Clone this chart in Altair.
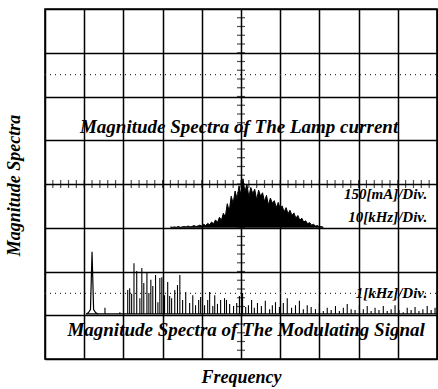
import altair as alt
import pandas as pd

# ---------------- data (screen units: 1 = one graticule division) -------------
# Lamp-current spectrum (upper trace), sits on the division line y = 3
lamp_pos = [3.20, 3.25, 3.30, 3.35, 3.40, 3.45, 3.50, 3.55, 3.60, 3.65,
            3.70, 3.75, 3.80, 3.85, 3.90, 3.95, 4.00, 4.05, 4.10, 4.15,
            4.20, 4.25, 4.30, 4.35, 4.40, 4.45, 4.50, 4.55, 4.60, 4.65,
            4.70, 4.75, 4.80, 4.85, 4.90, 4.95, 5.00, 5.05, 5.10, 5.15,
            5.20, 5.25, 5.30, 5.35, 5.40, 5.45, 5.50, 5.55, 5.60, 5.65,
            5.70, 5.75, 5.80, 5.85, 5.90, 5.95, 6.00, 6.05, 6.10, 6.15,
            6.20, 6.25, 6.30, 6.35, 6.40, 6.45, 6.50, 6.55, 6.60, 6.65,
            6.70, 6.75, 6.80, 6.85, 6.90, 6.95, 7.00, 7.05, 7.10]
lamp_mag = [0.02, 0.01, 0.02, 0.01, 0.03, 0.01, 0.02, 0.03, 0.02, 0.04,
            0.02, 0.03, 0.05, 0.03, 0.04, 0.06, 0.04, 0.08, 0.05, 0.10,
            0.07, 0.13, 0.09, 0.18, 0.12, 0.24, 0.17, 0.33, 0.25, 0.55,
            0.38, 0.72, 0.56, 0.84, 0.66, 0.96, 0.74, 1.12, 0.82, 1.00,
            0.70, 0.92, 0.78, 0.88, 0.64, 0.86, 0.72, 0.80, 0.60, 0.74,
            0.52, 0.68, 0.56, 0.62, 0.46, 0.58, 0.44, 0.50, 0.36, 0.46,
            0.32, 0.40, 0.28, 0.34, 0.22, 0.28, 0.17, 0.22, 0.13, 0.16,
            0.09, 0.12, 0.06, 0.08, 0.04, 0.05, 0.02, 0.03, 0.01]

# Modulating-signal spectrum (lower trace): spike positions and tops
mod_pos = [1.53, 1.91, 2.11, 2.16, 2.21, 2.27, 2.34, 2.42, 2.47, 2.52,
           2.60, 2.65, 2.70, 2.75, 2.82, 2.88, 2.93, 2.98, 3.05, 3.13,
           3.18, 3.23, 3.31, 3.38, 3.44, 3.51, 3.59, 3.69, 3.77, 3.84,
           3.92, 3.97, 4.07, 4.15, 4.20, 4.28, 4.33, 4.40, 4.48, 4.58,
           4.63, 4.71, 4.81, 4.89, 4.96, 5.04, 5.12, 5.19, 5.27, 5.34,
           5.42, 5.52, 5.62, 5.73, 5.80, 5.88, 5.98, 6.08, 6.18, 6.29,
           6.39, 6.49, 6.59, 6.69, 6.79, 6.90, 7.00, 7.10, 7.20, 7.30,
           7.41, 7.51, 7.61, 7.71, 7.81, 7.91, 8.02, 8.12, 8.22, 8.32,
           8.42, 8.52, 8.63, 8.73, 8.83, 8.93, 9.03, 9.14, 9.24, 9.34,
           9.44, 9.54, 9.64, 9.75, 9.85, 9.95]
mod_mag = [1.17, 1.07, 1.58, 1.62, 1.49, 2.19, 2.01, 1.39, 2.08, 1.74,
           1.99, 1.51, 1.81, 1.67, 1.92, 1.30, 1.85, 1.87, 1.46, 1.76,
           1.44, 1.39, 1.58, 1.69, 1.92, 1.35, 1.53, 1.28, 1.46, 1.23,
           1.35, 1.42, 1.23, 1.35, 1.53, 1.21, 1.46, 1.26, 1.35, 1.39,
           1.35, 1.26, 1.21, 1.28, 1.44, 1.51, 1.19, 1.23, 1.35, 1.17,
           1.28, 1.21, 1.33, 1.14, 1.23, 1.30, 1.19, 1.28, 1.39, 1.17,
           1.23, 1.33, 1.14, 1.23, 1.19, 1.14, 1.28, 1.10, 1.17, 1.12,
           1.21, 1.10, 1.17, 1.26, 1.14, 1.12, 1.23, 1.14, 1.21, 1.10,
           1.17, 1.12, 1.21, 1.10, 1.14, 1.23, 1.12, 1.07, 1.17, 1.12,
           1.19, 1.10, 1.14, 1.21, 1.12, 1.17]
# the isolated low-frequency line with its broadened foot
peak_pos = [1.05, 1.11, 1.16, 1.20, 1.24, 1.29, 1.35]
peak_mag = [1.03, 1.06, 1.13, 2.45, 1.13, 1.06, 1.03]

titles = ["Magnitude Spectra of The Lamp current",
          "Magnitude Spectra of The Modulating Signal"]
title_x = [4.95, 5.13]
title_y = [5.30, 0.66]
scales = ["150[mA]/Div.", "10[kHz]/Div.", "1[kHz]/Div."]
scale_x = [9.75, 9.75, 9.75]
scale_y = [3.77, 3.25, 1.51]

# ------------------------------------------------------------------------------
FONT = "Liberation Serif"
X = alt.Scale(domain=[0, 10], nice=False, zero=False)
Y = alt.Scale(domain=[0, 8], nice=False, zero=False)

XAX = alt.Axis(
    values=list(range(11)), grid=True, gridColor="black", gridWidth=1.5,
    gridOpacity=1, labels=False, ticks=False, domain=False,
    title="Frequency", titleFont=FONT, titleFontSize=18,
    titleFontStyle="italic", titleFontWeight="bold", titleColor="black",
    titleY=18, titleBaseline="middle")
YAX = alt.Axis(
    values=list(range(9)), grid=True, gridColor="black", gridWidth=1.5,
    gridOpacity=1, labels=False, ticks=False, domain=False,
    title="Magnitude Spectra", titleFont=FONT, titleFontSize=18,
    titleFontStyle="italic", titleFontWeight="bold", titleColor="black",
    titleX=-31, titleY=176, titleBaseline="middle", titleAlign="center")


def xf(f):
    return alt.X(f, scale=X, axis=XAX)


def yf(f):
    return alt.Y(f, scale=Y, axis=YAX)


dotted = alt.Chart(pd.DataFrame({"x": [0.0, 0.0], "y": [1.5, 6.5]})).mark_rule(
    color="#333333", strokeDash=[1, 4], strokeWidth=1.2).encode(
    x=xf("x:Q"), x2=alt.datum(10), y=yf("y:Q"))

minor = [i / 5 for i in range(1, 50)]
vt = alt.Chart(pd.DataFrame({"y": [m for m in minor if m < 8]})).transform_calculate(
    x="5").mark_tick(orient="horizontal", size=8, thickness=1.2, color="black").encode(
    x=xf("x:Q"), y=yf("y:Q"))
ht = alt.Chart(pd.DataFrame({"x": [m for m in minor if m < 10]})).transform_calculate(
    y="4").mark_tick(orient="vertical", size=8, thickness=1.2, color="black").encode(
    x=xf("x:Q"), y=yf("y:Q"))

lamp = alt.Chart(pd.DataFrame({"f": lamp_pos, "m": lamp_mag})).transform_calculate(
    top="datum.m + 3").mark_area(color="black", opacity=1, fillOpacity=1,
                                 line={"color": "black", "strokeWidth": 1}).encode(
    x=xf("f:Q"), y=yf("top:Q"), y2=alt.datum(3))

floor = alt.Chart(pd.DataFrame({"x": [1.05], "y": [1.03]})).mark_rule(
    color="black", strokeWidth=1.2).encode(
    x=xf("x:Q"), x2=alt.datum(10), y=yf("y:Q"))

mod = alt.Chart(pd.DataFrame({"f": mod_pos, "m": mod_mag})).mark_rule(
    color="black", strokeWidth=1.1).encode(
    x=xf("f:Q"), y=yf("m:Q"), y2=alt.datum(1.03))

peak = alt.Chart(pd.DataFrame({"f": peak_pos, "m": peak_mag})).mark_line(
    color="black", strokeWidth=1.2).encode(x=xf("f:Q"), y=yf("m:Q"))

ttl = alt.Chart(pd.DataFrame({"x": title_x, "y": title_y, "t": titles})).mark_text(
    font=FONT, fontSize=19, fontStyle="italic", fontWeight="bold", color="black",
    align="center", baseline="middle").encode(
    x=xf("x:Q"), y=yf("y:Q"), text="t:N")

scl = alt.Chart(pd.DataFrame({"x": scale_x, "y": scale_y, "t": scales})).mark_text(
    font=FONT, fontSize=15, fontStyle="italic", fontWeight="bold", color="black",
    align="right", baseline="middle").encode(
    x=xf("x:Q"), y=yf("y:Q"), text="t:N")

chart = alt.layer(dotted, vt, ht, lamp, floor, mod, peak, ttl, scl).properties(
    width=392, height=350,
    autosize=alt.AutoSizeParams(type="none"),
    padding={"left": 45, "top": 9, "right": 1, "bottom": 30},
    background="white",
).configure_view(stroke="black", strokeWidth=1.6)

chart.save("out.html", embed_options={"renderer": "svg", "actions": False})
